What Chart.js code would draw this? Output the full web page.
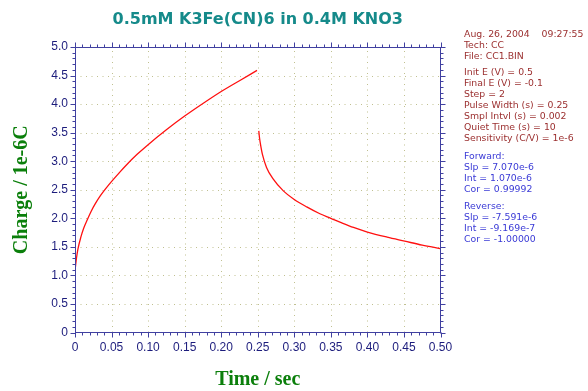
<!DOCTYPE html>
<html><head><meta charset="utf-8">
<script src="https://cdn.jsdelivr.net/npm/chart.js@4.4.0/dist/chart.umd.min.js"></script>
<style>
html,body{margin:0;padding:0;background:#fff;width:588px;height:391px;overflow:hidden;}
#wrap{position:relative;width:588px;height:391px;}
canvas{position:absolute;left:0;top:0;}
.info{position:absolute;left:464px;font-family:"DejaVu Sans",Verdana,sans-serif;font-size:9.33px;white-space:pre;line-height:11px;}
.brown{color:#9b2f2f;}
.blue{color:#3a3ad6;}
</style></head><body>
<div id="wrap">
<canvas id="c" width="588" height="391"></canvas>
<div id="b1" class="info brown" style="top:27.5px"></div>
<div id="b2" class="info brown" style="top:65.8px"></div>
<div id="b3" class="info blue" style="top:150.2px"></div>
<div id="b4" class="info blue" style="top:199.8px"></div>
</div>
<script>
// ---- Text ----
const chartTitle = "0.5mM K3Fe(CN)6 in 0.4M KNO3";
const xAxisTitle = "Time / sec";
const yAxisTitle = "Charge / 1e-6C";
const infoHeader = ["Aug. 26, 2004    09:27:55", "Tech: CC", "File: CC1.BIN"];
const infoParams = ["Init E (V) = 0.5", "Final E (V) = -0.1", "Step = 2", "Pulse Width (s) = 0.25",
  "Smpl Intvl (s) = 0.002", "Quiet Time (s) = 10", "Sensitivity (C/V) = 1e-6"];
const forwardFit = ["Forward:", "Slp = 7.070e-6", "Int = 1.070e-6", "Cor = 0.99992"];
const reverseFit = ["Reverse:", "Slp = -7.591e-6", "Int = -9.169e-7", "Cor = -1.00000"];

// ---- Ticks ----
const xTickValues = [0, 0.05, 0.10, 0.15, 0.20, 0.25, 0.30, 0.35, 0.40, 0.45, 0.50];
const xTickLabels = ["0", "0.05", "0.10", "0.15", "0.20", "0.25", "0.30", "0.35", "0.40", "0.45", "0.50"];
const yTickValues = [0, 0.5, 1.0, 1.5, 2.0, 2.5, 3.0, 3.5, 4.0, 4.5, 5.0];
const yTickLabels = ["0", "0.5", "1.0", "1.5", "2.0", "2.5", "3.0", "3.5", "4.0", "4.5", "5.0"];
const xMinorStep = 0.01;
const yMinorStep = 0.1;

// ---- Data ----
const fwdTime   = [0, 0.002, 0.004, 0.008, 0.012, 0.017, 0.022, 0.028, 0.035, 0.042, 0.049, 0.060, 0.070, 0.085, 0.100, 0.125, 0.150, 0.175, 0.200, 0.225, 0.249];
const fwdCharge = [1.08, 1.30, 1.46, 1.67, 1.83, 1.98, 2.12, 2.26, 2.40, 2.52, 2.63, 2.79, 2.93, 3.12, 3.29, 3.55, 3.79, 4.01, 4.22, 4.41, 4.59];
const revTime   = [0.2514, 0.2525, 0.2537, 0.2564, 0.262, 0.271, 0.285, 0.300, 0.317, 0.335, 0.350, 0.365, 0.381, 0.400, 0.427, 0.451, 0.475, 0.4995];
const revCharge = [3.53, 3.40, 3.30, 3.12, 2.89, 2.69, 2.48, 2.33, 2.20, 2.08, 2.00, 1.92, 1.84, 1.76, 1.67, 1.60, 1.53, 1.47];

document.getElementById('b1').textContent = infoHeader.join('\n');
document.getElementById('b2').textContent = infoParams.join('\n');
document.getElementById('b3').textContent = forwardFit.join('\n');
document.getElementById('b4').textContent = reverseFit.join('\n');

const AXIS = '#4040a0';
const GRID = '#c0c090';
const TICKTXT = '#1c1c7c';

const framePlugin = {
  id: 'frame',
  beforeDatasetsDraw(chart) {
    const {ctx, chartArea: a, scales: {x, y}} = chart;
    ctx.save();
    ctx.strokeStyle = GRID; ctx.lineWidth = 1; ctx.setLineDash([1, 4.5]);
    xTickValues.forEach(v => {
      if (v <= 0 || v >= 0.5) return;
      const px = Math.round(x.getPixelForValue(v)) + 0.5;
      ctx.beginPath(); ctx.moveTo(px, a.bottom); ctx.lineTo(px, a.top); ctx.stroke();
    });
    yTickValues.forEach(v => {
      if (v <= 0 || v >= 5) return;
      const py = Math.round(y.getPixelForValue(v)) + 0.5;
      ctx.beginPath(); ctx.moveTo(a.left, py); ctx.lineTo(a.right, py); ctx.stroke();
    });
    ctx.restore();
  },
  afterDatasetsDraw(chart) {
    const {ctx, chartArea: a, scales: {x, y}} = chart;
    const L = Math.floor(a.left) + 0.5, R = Math.floor(a.right) + 0.5;
    const T = Math.floor(a.top) + 0.5, B = Math.floor(a.bottom) + 0.5;
    ctx.save();
    ctx.strokeStyle = AXIS; ctx.lineWidth = 1;
    ctx.strokeRect(L, T, R - L, B - T);
    ctx.beginPath();
    const nx = Math.round((x.max - x.min) / xMinorStep);
    for (let i = 0; i <= nx; i++) {
      const v = x.min + i * xMinorStep;
      const len = i % 5 === 0 ? 5 : 3;
      const px = Math.round(x.getPixelForValue(v)) + 0.5;
      ctx.moveTo(px, B); ctx.lineTo(px, B + len);
      ctx.moveTo(px, T); ctx.lineTo(px, T - len);
    }
    const ny = Math.round((y.max - y.min) / yMinorStep);
    for (let i = 0; i <= ny; i++) {
      const v = y.min + i * yMinorStep;
      const len = i % 5 === 0 ? 5 : 3;
      const py = Math.round(y.getPixelForValue(v)) + 0.5;
      ctx.moveTo(L, py); ctx.lineTo(L - len, py);
      ctx.moveTo(R, py); ctx.lineTo(R + len, py);
    }
    ctx.stroke();
    ctx.restore();
  },
  afterDraw(chart) {
    const {ctx, chartArea: a} = chart;
    ctx.save();
    ctx.fillStyle = '#158a8a';
    ctx.font = 'bold 16px "DejaVu Sans", Verdana, sans-serif';
    ctx.textAlign = 'center'; ctx.textBaseline = 'middle';
    ctx.fillText(chartTitle, (a.left + a.right) / 2, 20);
    ctx.fillStyle = '#0b7f0b';
    ctx.font = 'bold 20px "Liberation Serif", "Times New Roman", serif';
    ctx.fillText(xAxisTitle, (a.left + a.right) / 2, 380);
    ctx.translate(22, (a.top + a.bottom) / 2);
    ctx.rotate(-Math.PI / 2);
    ctx.fillText(yAxisTitle, 0, 0);
    ctx.restore();
  }
};

const toPts = (xs, ys) => xs.map((t, i) => ({x: t, y: ys[i]}));

new Chart(document.getElementById('c').getContext('2d'), {
  type: 'scatter',
  data: {
    datasets: [
      {data: toPts(fwdTime, fwdCharge), showLine: true, borderColor: '#ff1010', borderWidth: 1.3, pointRadius: 0, cubicInterpolationMode: 'monotone'},
      {data: toPts(revTime, revCharge), showLine: true, borderColor: '#ff1010', borderWidth: 1.3, pointRadius: 0, cubicInterpolationMode: 'monotone'}
    ]
  },
  options: {
    responsive: false,
    animation: false,
    devicePixelRatio: 1,
    layout: {padding: {left: 0, top: 47, right: 147.5, bottom: 0}},
    plugins: {legend: {display: false}, tooltip: {enabled: false}, title: {display: false}},
    scales: {
      x: {
        type: 'linear', min: 0, max: 0.5,
        afterBuildTicks(s) { s.ticks = xTickValues.map(v => ({value: v})); },
        afterFit(s) { s.height = 58.5; },
        grid: {display: false, drawTicks: false},
        border: {display: false},
        ticks: {color: TICKTXT, font: {family: '"Liberation Sans", Arial, sans-serif', size: 12}, padding: 8,
          maxRotation: 0, autoSkip: false, callback: (v, i) => xTickLabels[i]}
      },
      y: {
        type: 'linear', min: 0, max: 5,
        afterBuildTicks(s) { s.ticks = yTickValues.map(v => ({value: v})); },
        afterFit(s) { s.width = 75; },
        grid: {display: false, drawTicks: false},
        border: {display: false},
        ticks: {color: TICKTXT, font: {family: '"Liberation Sans", Arial, sans-serif', size: 12}, padding: 7,
          autoSkip: false, callback: (v, i) => yTickLabels[i]}
      }
    }
  },
  plugins: [framePlugin]
});
</script>
</body></html>
